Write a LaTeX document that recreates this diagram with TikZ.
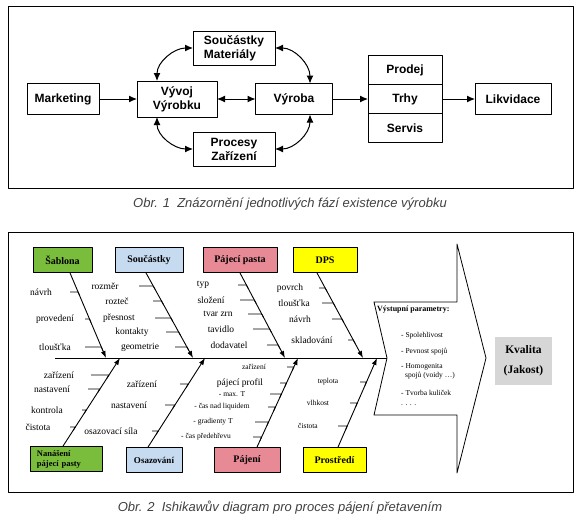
\documentclass[tikz,border=0pt]{standalone}
\usepackage{fontspec}
\setmainfont{Liberation Serif}
\newfontfamily\sansfont{Liberation Sans}
\usetikzlibrary{calc,arrows.meta,positioning,intersections}
\definecolor{cgreen}{RGB}{122,188,60}
\definecolor{cblue}{RGB}{198,218,240}
\definecolor{cpink}{RGB}{231,138,150}
\definecolor{cyellow}{RGB}{255,255,0}
\definecolor{cgray}{RGB}{214,214,214}
\tikzset{
  phase/.style={draw,line width=1pt,inner sep=0pt,outer sep=0pt,align=center,font=\sansfont\bfseries\fontsize{12}{14}\selectfont},
  flow/.style={line width=1pt,-{Latex[length=8pt,width=7pt]}},
  flowboth/.style={line width=1pt,{Latex[length=8pt,width=7pt]}-{Latex[length=8pt,width=7pt]}},
  cause/.style={draw,line width=0.8pt,inner sep=0pt,minimum height=25pt,align=center,font=\bfseries\fontsize{10}{11}\selectfont},
  bone/.style={line width=0.9pt,-{Latex[length=7pt,width=5pt]}},
  twig/.style={line width=0.8pt},
  lbl/.style={inner sep=0pt,font=\fontsize{9.5}{10}\selectfont},
  sml/.style={inner sep=0pt,font=\fontsize{7.5}{9}\selectfont},
  capt/.style={font=\sansfont\itshape\fontsize{13}{15}\selectfont,text=black!75}
}
\begin{document}
\begin{tikzpicture}[x=1pt,y=-1pt,line join=round]
\useasboundingbox (0,0) rectangle (582,522);
\draw[line width=1pt] (8,6) rectangle (573,188);
\node[phase,minimum width=72pt,minimum height=31pt] (mark) at (63,99) {Marketing};
\node[phase,minimum width=80pt,minimum height=36pt] (vyvoj) at (177,99) {Vývoj\\Výrobku};
\node[phase,minimum width=82pt,minimum height=34pt,align=left] (mat) at (234,48) {Součástky\\Materiály};
\node[phase,minimum width=77pt,minimum height=31pt] (vyroba) at (294,99) {Výroba};
\node[phase,minimum width=82pt,minimum height=34pt] (proc) at (234,149) {Procesy\\Zařízení};
\node[phase,minimum width=74pt,minimum height=29pt] (prodej) at (405,70) {Prodej};
\node[phase,minimum width=74pt,minimum height=29pt,below=0pt of prodej] (trhy) {Trhy};
\node[phase,minimum width=74pt,minimum height=29pt,below=0pt of trhy] (servis) {Servis};
\node[phase,minimum width=76pt,minimum height=31pt] (likv) at (513,99) {Likvidace};
\draw[flow] (mark) -- (vyvoj);
\draw[flowboth] (vyvoj) -- (vyroba);
\draw[flow] (vyroba) -- (trhy);
\draw[flow] (trhy) -- (likv);
\draw[flowboth] ([xshift=-20pt]vyvoj.north) to[out=90,in=180] (mat.west);
\draw[flowboth] (mat.east) to[out=0,in=90] ([xshift=16pt]vyroba.north);
\draw[flowboth] ([xshift=-20pt]vyvoj.south) to[out=-90,in=180] (proc.west);
\draw[flowboth] (proc.east) to[out=0,in=-90] ([xshift=16pt]vyroba.south);
\node[capt] (cap1) at (290,204) {Obr. 1\ \ Znázornění jednotlivých fází existence výrobku};

\draw[line width=1pt] (8,232) rectangle (573,492);
\node[cause,fill=cgreen,minimum width=59pt] (sabl) at (62.5,260) {Šablona};
\node[cause,fill=cblue,minimum width=68pt] (souc) at (149,260) {Součástky};
\node[cause,fill=cpink,minimum width=74pt] (pasta) at (240,260) {Pájecí pasta};
\node[cause,fill=cyellow,minimum width=64pt] (dps) at (325,260) {DPS};
\node[cause,fill=cgreen,minimum width=72pt,text width=58pt,align=left,font=\bfseries\fontsize{8.5}{10}\selectfont] (nanas) at (66,459) {Nanášení\\pájecí pasty};
\node[cause,fill=cblue,minimum width=56pt,font=\bfseries\fontsize{9}{11}\selectfont] (osaz) at (154,460) {Osazování};
\node[cause,fill=cpink,minimum width=66pt] (pajeni) at (247,460) {Pájení};
\node[cause,fill=cyellow,minimum width=63pt] (prost) at (334.5,460) {Prostředí};
\coordinate (b1) at ([xshift=7.5pt]sabl.south);  \coordinate (e1) at (106,358);
\coordinate (b2) at ([xshift=-3pt]souc.south);   \coordinate (e2) at (193,358);
\coordinate (b3) at (pasta.south);               \coordinate (e3) at (285,358);
\coordinate (b4) at ([xshift=-8pt]dps.south);    \coordinate (e4) at (363,358);
\coordinate (b5) at ([xshift=-3pt]nanas.north);  \coordinate (e5) at (120,358);
\coordinate (b6) at ([xshift=-6pt]osaz.north);   \coordinate (e6) at (205,358);
\coordinate (b7) at ([xshift=10pt]pajeni.north); \coordinate (e7) at (298,358);
\coordinate (b8) at ([xshift=3.5pt]prost.north); \coordinate (e8) at (377,358);
\coordinate (sp) at (55,358);
\coordinate (notch) at (387,358);
\draw[line width=0.9pt] (sp) -- (notch);
\foreach \n in {1,...,8} \draw[bone,name path global=bone\n] (b\n) -- (e\n);
\foreach \txt/\tx/\ty/\sx/\n/\k/\f [count=\i] in {
  návrh/41/292/70/1/e/lbl, provedení/55/319/85/1/e/lbl, tloušťka/55/347/85/1/e/lbl,
  rozměr/105/286/139/2/e/lbl, rozteč/117/301/153/2/e/lbl, přesnost/119/318/155/2/e/lbl,
  kontakty/132/332/166/2/e/lbl, geometrie/140/347/175/2/e/lbl,
  typ/203/285/238/3/e/lbl, složení/211/300/240/3/e/lbl, tvar zrn/218/314/248/3/e/lbl,
  tavidlo/221/329/253/3/e/lbl, dodavatel/229/345/267/3/e/lbl,
  povrch/290/288/319/4/e/lbl, tloušťka/294/303/322/4/e/lbl, návrh/300/319/332/4/e/lbl,
  skladování/312/340/348/4/e/lbl,
  zařízení/59/375/91/5/b/lbl, nastavení/52/389/88/5/b/lbl, kontrola/47/410/82/5/b/lbl,
  čistota/38/427/70/5/b/lbl,
  zařízení/142/384/180/6/b/lbl, nastavení/129/405/165/6/b/lbl, osazovací síla/111/431/152/6/b/lbl,
  zařízení/254/367/287/7/b/sml, pájecí profil/240/383/280/7/b/lbl, - max. T/232/394/270/7/b/sml,
  - čas nad liquidem/222/407/268/7/b/sml, - gradienty T/213/422/255/7/b/sml,
  - čas předehřevu/206/437/253/7/b/sml,
  teplota/328/382/360/8/b/sml, vlhkost/318/403/350/8/b/sml, čistota/308/426/338/8/b/sml}{
  \node[\f] (w\i) at (\tx,\ty) {\txt};
  \path[name path=row] (0,\ty) -- (580,\ty);
  \path[name intersections={of=row and bone\n,by=p}];
  \draw[twig] (\sx,\ty) -- (p) -- ($(p)!4pt!(\k\n)$);
}
\draw[line width=0.8pt] (notch) -- (374,302) -- (457,302) -- (457,244) -- (486,358) -- (457,473) -- (457,415) -- (374,415) -- cycle;
\node[anchor=west,inner sep=0pt,font=\bfseries\fontsize{8}{9}\selectfont] (outh) at (377,310) {Výstupní parametry:};
\foreach \txt/\y [count=\i] in {- Spolehlivost/336, - Pevnost spojů/352, - Homogenita/367, - Tvorba kuliček/393, . . . ./405}
  \node[sml,anchor=west] (o\i) at (401,\y) {\txt};
\node[sml,anchor=west] (o6) at (405,376) {spojů (voidy \dots)};
\node[fill=cgray,minimum width=57pt,minimum height=48pt,align=center,font=\bfseries\fontsize{11.5}{20}\selectfont] (kval) at (523.5,361) {Kvalita\\(Jakost)};
\node[capt] (cap2) at (280,508) {Obr. 2\ \ Ishikawův diagram pro proces pájení přetavením};
\end{tikzpicture}
\end{document}
